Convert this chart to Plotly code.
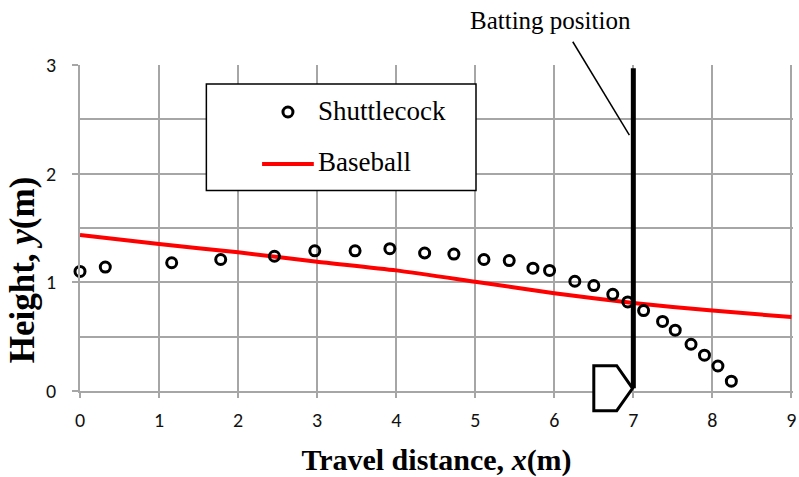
import plotly.graph_objects as go

# Shuttlecock trajectory (travel distance x, height y), metres
shuttle_x = [0.00, 0.32, 1.16, 1.78, 2.46, 2.97, 3.48, 3.92, 4.36, 4.73, 5.11, 5.43,
             5.73, 5.94, 6.26, 6.50, 6.74, 6.93, 7.13, 7.37, 7.53, 7.73, 7.90, 8.07, 8.24]
shuttle_y = [1.10, 1.14, 1.18, 1.21, 1.24, 1.29, 1.29, 1.31, 1.27, 1.26, 1.21, 1.20,
             1.13, 1.11, 1.01, 0.97, 0.89, 0.82, 0.74, 0.64, 0.56, 0.43, 0.33, 0.23, 0.09]

# Baseball trajectory
baseball_x = [0, 1, 2, 3, 4, 5, 6, 7, 8, 9]
baseball_y = [1.435, 1.352, 1.276, 1.19, 1.11, 1.006, 0.90, 0.81, 0.74, 0.68]

# Axis ranges and ticks
x_range = [0, 9.02]
y_range = [0, 3]
x_ticks = [0, 1, 2, 3, 4, 5, 6, 7, 8, 9]
y_ticks = [0, 1, 2, 3]

# Batting position marker and home plate outline (data units)
batting_x = 7.0
batting_top = 2.97
plate_x = [6.50, 6.79, 6.99, 6.79, 6.50]
plate_y = [0.233, 0.233, 0.025, -0.181, -0.181]
pointer_head = (6.95, 2.355)
pointer_tail = (6.234, 3.214)

SERIF = "Liberation Serif, Times New Roman, serif"
SANS = "Carlito, Lato, sans-serif"
GRID = "#a6a6a6"

PLOT_L, PLOT_R, PLOT_T, PLOT_B = 80, 796.6, 65, 391


def py(v):
    """Data y to paper y."""
    return (v - y_range[0]) / (y_range[1] - y_range[0])


def px_x(p):
    """Pixel x inside the figure to paper x."""
    return (p - PLOT_L) / (PLOT_R - PLOT_L)


def px_y(p):
    """Pixel y inside the figure to paper y."""
    return (PLOT_B - p) / (PLOT_B - PLOT_T)


fig = go.Figure()

fig.add_trace(go.Scatter(
    x=baseball_x, y=baseball_y, mode="lines", name="Baseball",
    line=dict(color="#ff0000", width=4, shape="spline", smoothing=0.6),
    showlegend=False,
))
fig.add_trace(go.Scatter(
    x=shuttle_x, y=shuttle_y, mode="markers", name="Shuttlecock",
    marker=dict(symbol="circle-open", size=10, color="black", line=dict(width=3, color="black")),
    cliponaxis=False, showlegend=False,
))

shapes = []
# batting position line
shapes.append(dict(type="line", xref="x", yref="y", x0=batting_x, x1=batting_x,
                   y0=plate_y[2], y1=batting_top, line=dict(color="black", width=5), layer="above"))
# home plate
path = "M " + " L ".join(f"{x},{py(y)}" for x, y in zip(plate_x, plate_y)) + " Z"
shapes.append(dict(type="path", xref="x", yref="paper", path=path,
                   line=dict(color="black", width=3), fillcolor="white", layer="above"))
# pointer line from label to batting line
shapes.append(dict(type="line", xref="x", yref="paper",
                   x0=pointer_tail[0], y0=py(pointer_tail[1]),
                   x1=pointer_head[0], y1=py(pointer_head[1]),
                   line=dict(color="black", width=1.5), layer="above"))

# legend box
shapes.append(dict(type="rect", xref="paper", yref="paper",
                   x0=px_x(207), x1=px_x(478), y0=px_y(190.5), y1=px_y(84),
                   line=dict(color="black", width=1.5), fillcolor="white", layer="above"))
# legend sample: open circle
shapes.append(dict(type="circle", xref="paper", yref="paper",
                   xsizemode="pixel", ysizemode="pixel",
                   xanchor=px_x(289), yanchor=px_y(112),
                   x0=-5, x1=5, y0=-5, y1=5,
                   line=dict(color="black", width=3), fillcolor="rgba(0,0,0,0)", layer="above"))
# legend sample: red line
shapes.append(dict(type="line", xref="paper", yref="paper",
                   x0=px_x(263), x1=px_x(315), y0=px_y(164), y1=px_y(164),
                   line=dict(color="#ff0000", width=4), layer="above"))

annotations = [
    dict(text="Shuttlecock", xref="paper", yref="paper", x=px_x(317), y=px_y(111),
         xanchor="left", yanchor="middle", showarrow=False,
         font=dict(family=SERIF, size=27, color="black")),
    dict(text="Baseball", xref="paper", yref="paper", x=px_x(317), y=px_y(162),
         xanchor="left", yanchor="middle", showarrow=False,
         font=dict(family=SERIF, size=27, color="black")),
    dict(text="Batting position", xref="paper", yref="paper", x=px_x(553), y=px_y(21),
         xanchor="center", yanchor="middle", showarrow=False,
         font=dict(family=SERIF, size=25, color="black")),
    dict(text="<b>Height, <i>y</i>(m)</b>", xref="paper", yref="paper",
         x=px_x(22), y=px_y(270), xanchor="center", yanchor="middle", textangle=-90,
         showarrow=False, font=dict(family=SERIF, size=35, color="black")),
]

fig.update_layout(
    width=799, height=477,
    margin=dict(l=PLOT_L, r=799 - PLOT_R, t=PLOT_T, b=477 - PLOT_B),
    paper_bgcolor="white", plot_bgcolor="white",
    shapes=shapes, annotations=annotations,
    showlegend=False,
)

fig.update_xaxes(
    range=x_range, tickvals=x_ticks, ticktext=[str(v) for v in x_ticks],
    showgrid=True, gridcolor=GRID, gridwidth=1.5,
    showline=True, linecolor=GRID, linewidth=1.5,
    ticks="outside", ticklen=5, tickcolor=GRID, tickwidth=1.5,
    tickfont=dict(family=SANS, size=20, color="#111"),
    ticklabelstandoff=5, ticklabeloverflow="allow",
    zeroline=False,
    title=dict(text="<b>Travel distance, <i>x</i>(m)</b>",
               font=dict(family=SERIF, size=30, color="black"), standoff=18),
)
fig.update_yaxes(
    range=y_range, tickvals=y_ticks, ticktext=[str(v) for v in y_ticks],
    showgrid=True, gridcolor=GRID, gridwidth=1.5,
    minor=dict(dtick=0.5, showgrid=True, gridcolor=GRID, gridwidth=1.5, ticks=""),
    showline=True, linecolor=GRID, linewidth=1.5,
    ticks="outside", ticklen=6, tickcolor=GRID, tickwidth=1.5,
    tickfont=dict(family=SANS, size=20, color="#111"),
    ticklabelstandoff=12,
    zeroline=False,
)

fig.write_html("out.html")
